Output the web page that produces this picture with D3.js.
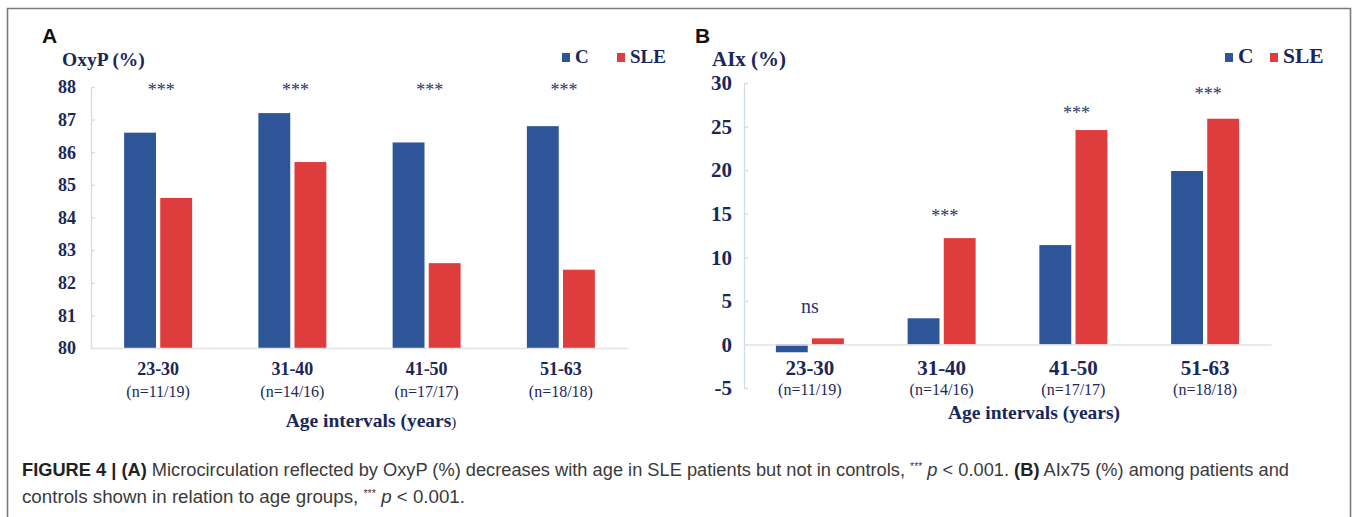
<!DOCTYPE html>
<html>
<head>
<meta charset="utf-8">
<script src="https://cdn.jsdelivr.net/npm/d3@7"></script>
<style>
  html, body { margin: 0; padding: 0; background: #fff; }
  svg { display: block; }
</style>
</head>
<body>
<svg id="chart" width="1357" height="517"></svg>
<script>
// ---------------- DATA ----------------
const categories = ["23-30", "31-40", "41-50", "51-63"];
const nLabels = ["(n=11/19)", "(n=14/16)", "(n=17/17)", "(n=18/18)"];
const seriesNames = ["C", "SLE"];

const oxypC   = [86.6, 87.2, 86.3, 86.8];
const oxypSLE = [84.6, 85.7, 82.6, 82.4];
const oxypTicks = [80, 81, 82, 83, 84, 85, 86, 87, 88];
const oxypSig = ["***", "***", "***", "***"];
const oxypSigAt = [88, 88, 88, 88];

const aixC   = [-0.9, 3.0, 11.4, 19.9];
const aixSLE = [0.7, 12.2, 24.6, 25.9];
const aixTicks = [-5, 0, 5, 10, 15, 20, 25, 30];
const aixSig = ["ns", "***", "***", "***"];
const aixSigAt = [4.2, 15.0, 26.8, 29.0];

const captionLine1 = [
  {t: "FIGURE 4 | (A)", w: "bold"},
  {t: " Microcirculation reflected by OxyP (%) decreases with age in SLE patients but not in controls, "},
  {t: "***", sup: true},
  {t: " "},
  {t: "p", i: true},
  {t: " < 0.001. "},
  {t: "(B)", w: "bold"},
  {t: " AIx75 (%) among patients and"}
];
const captionLine2 = [
  {t: "controls shown in relation to age groups, "},
  {t: "***", sup: true},
  {t: " "},
  {t: "p", i: true},
  {t: " < 0.001."}
];

// ---------------- STYLE ----------------
const BLUE = "#2e5597";
const RED = "#de3c3d";
const NAVY = "#1b2759";
const SERIF = "'Liberation Serif', 'Times New Roman', serif";
const SANS = "'Liberation Sans', Arial, sans-serif";
const AXIS = "#cfdbe6";
const BASE = "#e3e3e3";

const svg = d3.select("#chart");

// Frame
svg.append("path")
  .attr("d", "M7.5,517 V8.5 H1350.5 V517")
  .attr("fill", "none").attr("stroke", "#7a7a7a").attr("stroke-width", 1.6);

function panel(cfg) {
  const g = svg.append("g");
  const x0 = d3.scaleBand().domain(categories).range(cfg.xRange).paddingInner(0).paddingOuter(0);
  const y = d3.scaleLinear().domain(cfg.yDomain).range(cfg.yRange);
  const x1 = d3.scaleBand().domain(seriesNames).range([-(cfg.barW + cfg.gap / 2), cfg.barW + cfg.gap / 2]).paddingInner(cfg.gap / (2 * cfg.barW + cfg.gap)).paddingOuter(0);
  const color = d3.scaleOrdinal().domain(seriesNames).range([BLUE, RED]);

  // Panel letter
  g.append("text").attr("x", cfg.letterX).attr("y", 43)
    .attr("font-family", SANS).attr("font-weight", "bold").attr("font-size", 21)
    .attr("fill", "#111").text(cfg.letter);

  // Y title
  g.append("text").attr("x", cfg.yTitleX).attr("y", 66)
    .attr("font-family", SERIF).attr("font-weight", "bold").attr("font-size", cfg.yTitleFont)
    .attr("fill", NAVY).text(cfg.yTitle);

  // Legend
  const leg = g.append("g");
  seriesNames.forEach((s, i) => {
    const lx = cfg.legendX[i];
    leg.append("rect").attr("x", lx).attr("y", 53).attr("width", 8).attr("height", 9).attr("fill", color(s));
    leg.append("text").attr("x", lx + 13).attr("y", 63)
      .attr("font-family", SERIF).attr("font-weight", "bold").attr("font-size", cfg.legendFont)
      .attr("fill", NAVY).text(s);
  });

  // Y axis
  const yAxis = d3.axisLeft(y).tickValues(cfg.yTicks).tickSizeInner(-4).tickSizeOuter(0)
    .tickPadding(cfg.tickPad).tickFormat(d => String(d));
  const ya = g.append("g").attr("transform", `translate(${cfg.xRange[0]},0)`).call(yAxis);
  ya.select(".domain").attr("stroke", AXIS).attr("stroke-width", 1.3);
  ya.selectAll(".tick line").attr("stroke", AXIS).attr("stroke-width", 1.3);
  ya.selectAll(".tick text")
    .attr("font-family", SERIF).attr("font-weight", "bold").attr("font-size", cfg.tickFont)
    .attr("fill", NAVY);

  // Bars
  const data = categories.map((c, i) => ({cat: c, vals: [{s: "C", v: cfg.c[i]}, {s: "SLE", v: cfg.sle[i]}]}));
  const base = cfg.base;
  const groups = g.selectAll(".grp").data(data).join("g")
    .attr("transform", d => `translate(${x0(d.cat) + x0.bandwidth() / 2},0)`);
  groups.selectAll("rect").data(d => d.vals).join("rect")
    .attr("x", d => x1(d.s))
    .attr("width", x1.bandwidth())
    .attr("y", d => Math.min(y(d.v), y(base)))
    .attr("height", d => Math.abs(y(d.v) - y(base)))
    .attr("fill", d => color(d.s));

  // X axis (categories) at baseline
  const xAxis = d3.axisBottom(x0).tickSize(0).tickSizeOuter(0).tickPadding(cfg.catPad);
  const xa = g.append("g").attr("transform", `translate(0,${y(base)})`).call(xAxis);
  xa.select(".domain").attr("stroke", BASE).attr("stroke-width", 1.5);
  xa.selectAll(".tick text")
    .attr("font-family", SERIF).attr("font-weight", "bold").attr("font-size", cfg.catFont)
    .attr("fill", NAVY);
  xa.selectAll(".tick").append("text")
    .attr("y", cfg.nY - y(base))
    .attr("font-family", SERIF).attr("font-size", 16).attr("fill", NAVY)
    .attr("text-anchor", "middle")
    .text((d, i) => nLabels[i]);

  // Significance labels
  g.selectAll(".sig").data(categories).join("text")
    .attr("x", (d, i) => x0(d) + x0.bandwidth() / 2 + (cfg.sig[i] === "ns" ? 0 : 3))
    .attr("y", (d, i) => y(cfg.sigAt[i]) + (cfg.sig[i] === "ns" ? 5 : 8.6))
    .attr("text-anchor", "middle")
    .attr("font-family", SERIF).attr("font-size", (d, i) => cfg.sig[i] === "ns" ? 20 : 18)
    .attr("fill", "#2a3768")
    .text((d, i) => cfg.sig[i]);

  // X title
  const xt = g.append("text").attr("x", cfg.xTitleX).attr("y", cfg.xTitleY)
    .attr("text-anchor", "middle")
    .attr("font-family", SERIF).attr("font-weight", "bold").attr("font-size", 19.5)
    .attr("fill", NAVY);
  if (cfg.smallParen) {
    xt.append("tspan").text("Age intervals (years");
    xt.append("tspan").attr("font-size", 15).attr("font-weight", "normal").text(")");
  } else {
    xt.text("Age intervals (years)");
  }
}

panel({
  letter: "A", letterX: 42, yTitle: "OxyP (%)", yTitleX: 62, yTitleFont: 19.5,
  legendX: [562, 617], legendFont: 19,
  xRange: [91, 628], yDomain: [80, 88], yRange: [348, 87], yTicks: oxypTicks,
  tickPad: 15, tickFont: 18, barW: 30, gap: 8,
  c: oxypC, sle: oxypSLE, base: 80,
  catPad: 14, catFont: 18, nY: 397,
  sig: oxypSig, sigAt: oxypSigAt,
  xTitleX: 371, xTitleY: 427, smallParen: true
});

panel({
  letter: "B", letterX: 695, yTitle: "AIx (%)", yTitleX: 712, yTitleFont: 21,
  legendX: [1225, 1270], legendFont: 21.5,
  xRange: [744, 1271], yDomain: [-5, 30], yRange: [388, 83], yTicks: aixTicks,
  tickPad: 12, tickFont: 21, barW: 30, gap: 8,
  c: aixC, sle: aixSLE, base: 0,
  catPad: 16, catFont: 21, nY: 395,
  sig: aixSig, sigAt: aixSigAt,
  xTitleX: 1034, xTitleY: 419, smallParen: false
});

// Caption
function captionLine(parts, yPos, len) {
  const t = svg.append("text").attr("x", 22).attr("y", yPos)
    .attr("font-family", SANS).attr("font-size", 17.5).attr("fill", "#3a3a3a")
    .attr("textLength", len).attr("lengthAdjust", "spacingAndGlyphs");
  parts.forEach((p, i) => {
    const ts = t.append("tspan").text(p.t);
    if (p.w) ts.attr("font-weight", p.w).attr("fill", "#222");
    if (p.i) ts.attr("font-style", "italic");
    if (p.sup) ts.attr("font-size", 10).attr("dy", -6);
    if (i > 0 && parts[i - 1].sup) ts.attr("dy", 6);
  });
}
captionLine(captionLine1, 476, 1267);
captionLine(captionLine2, 503, 443);
</script>
</body>
</html>
